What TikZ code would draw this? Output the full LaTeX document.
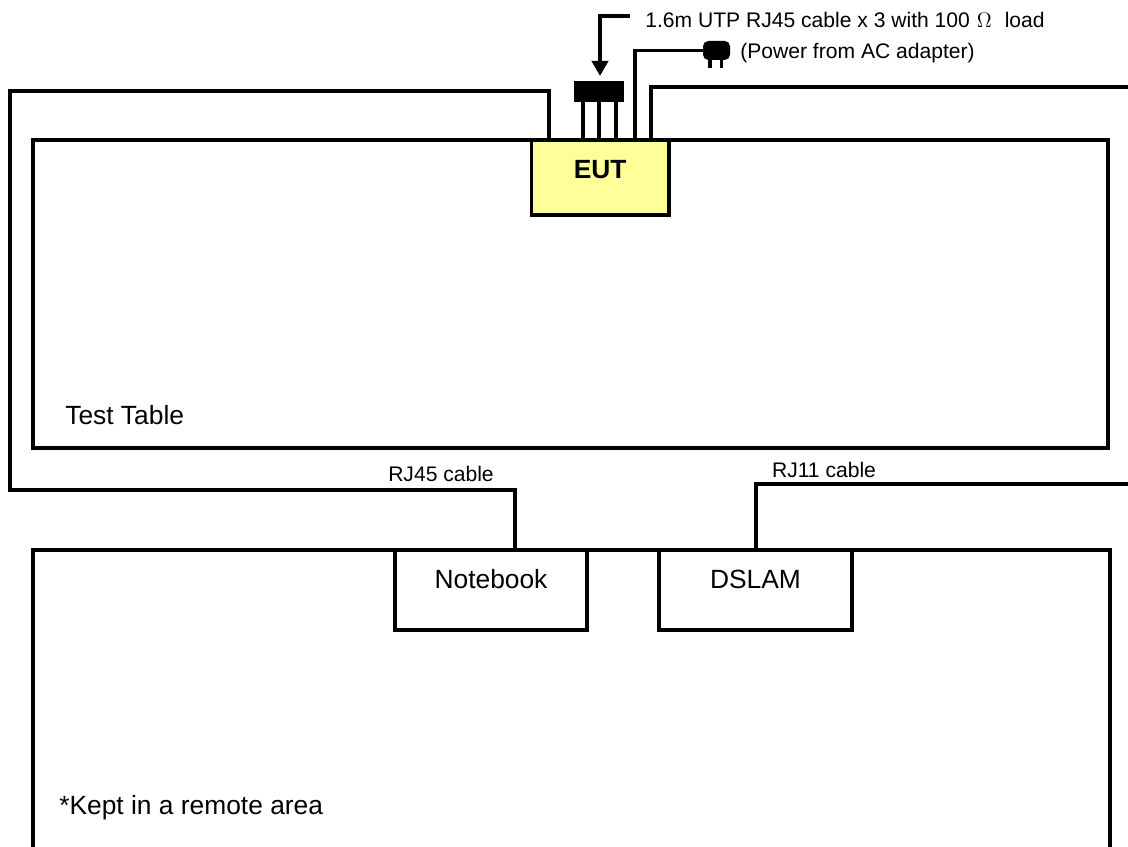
\documentclass[tikz,border=0pt]{standalone}
\usepackage{fontspec}
\setmainfont{Liberation Sans}
\usetikzlibrary{arrows.meta,positioning,calc}
\definecolor{EutFill}{HTML}{FFFF99}
\tikzset{
  cable/.style={line width=2.1pt,draw=black},
  arr/.style={-{Triangle[length=.3cm,width=.32cm]},line width=2.1pt,draw=black},
  boxstyle/.style={draw=black,line width=2.2pt,fill=white,inner sep=0pt,outer sep=0pt},
  devbox/.style={boxstyle,minimum width=3.85cm,minimum height=1.6cm,anchor=north,text depth=.44cm,font=\fontsize{15}{17}\selectfont},
  smalltxt/.style={font=\fontsize{12}{14}\selectfont,inner sep=0pt},
  bigtxt/.style={font=\fontsize{15}{17}\selectfont,inner sep=0pt}
}

\begin{document}
\begin{tikzpicture}[x=.02cm,y=-.02cm]
  \useasboundingbox (0,0) rectangle (1128,847);
  % the two tables
  \node[boxstyle,minimum width=21.5cm,minimum height=6.16cm,anchor=north west] (tbl) at (33,140) {};
  \draw[boxstyle,fill=none] (33,847) |- (1110,550) -- (1110,847);
  \node[boxstyle,fill=EutFill,minimum width=2.75cm,minimum height=1.5cm,anchor=north west,text depth=.34cm,font=\fontsize{15}{17}\selectfont\bfseries] (eut) at (531.5,140) {EUT};
  \node[devbox] (nb) at (491,550) {Notebook};
  \node[devbox] (dslam) at (755.5,550) {DSLAM};
  % loads and plug
  \node[fill=black,minimum width=1cm,minimum height=.42cm,inner sep=0pt,outer sep=0pt,anchor=north west] (rj) at (574,81) {};
  \node[fill=black,rounded corners=3pt,minimum width=.54cm,minimum height=.38cm,inner sep=0pt,outer sep=0pt,anchor=north west] (plug) at (703,41) {};
  \coordinate (ltop) at (10,91);
  \coordinate (lbot) at (10,490);
  \coordinate (rtop) at (1128,87);
  \coordinate (rbot) at (1128,484);
  \coordinate (tip) at (600,76);
  % cables
  \draw[cable] ([xshift=.35cm]eut.north west) |- (ltop) -- (lbot) -| ([xshift=.48cm]nb.north);
  \draw[cable] ([xshift=2.39cm]eut.north west) |- (rtop);
  \draw[cable] ([xshift=2.07cm]eut.north west) |- (plug.west);
  \draw[cable] ([xshift=.01cm]dslam.north) |- (rbot);
  \foreach \i/\dx in {1/-.32,2/0,3/.34} {
    \draw[cable] ([xshift=\dx cm]rj.south) -- ([xshift=\dx cm]rj.south |- eut.north);
  }
  \draw[cable] ([xshift=-.13cm]plug.south) -- ++(0,8);
  \draw[cable] ([xshift=.1cm]plug.south) -- ++(0,8);
  % labels
  \node[smalltxt,anchor=west] (lbl) at (645,20) {1.6m UTP RJ45 cable x 3 with 100\,\,$\Omega$\,\, load};
  \node[smalltxt,anchor=west] (pwr) at (740,53) {(Power from AC adapter)};
  \coordinate (bend) at (630,16);
  \draw[arr] (bend) -| (tip);
  \node[bigtxt,anchor=west] (tt) at (65,415) {Test Table};
  \node[bigtxt,anchor=west] (kept) at (59,808) {*Kept in a remote area};
  \node[smalltxt] (rj45) at (441,474) {RJ45 cable};
  \node[smalltxt] (rj11) at (824,470) {RJ11 cable};
\end{tikzpicture}
\end{document}
